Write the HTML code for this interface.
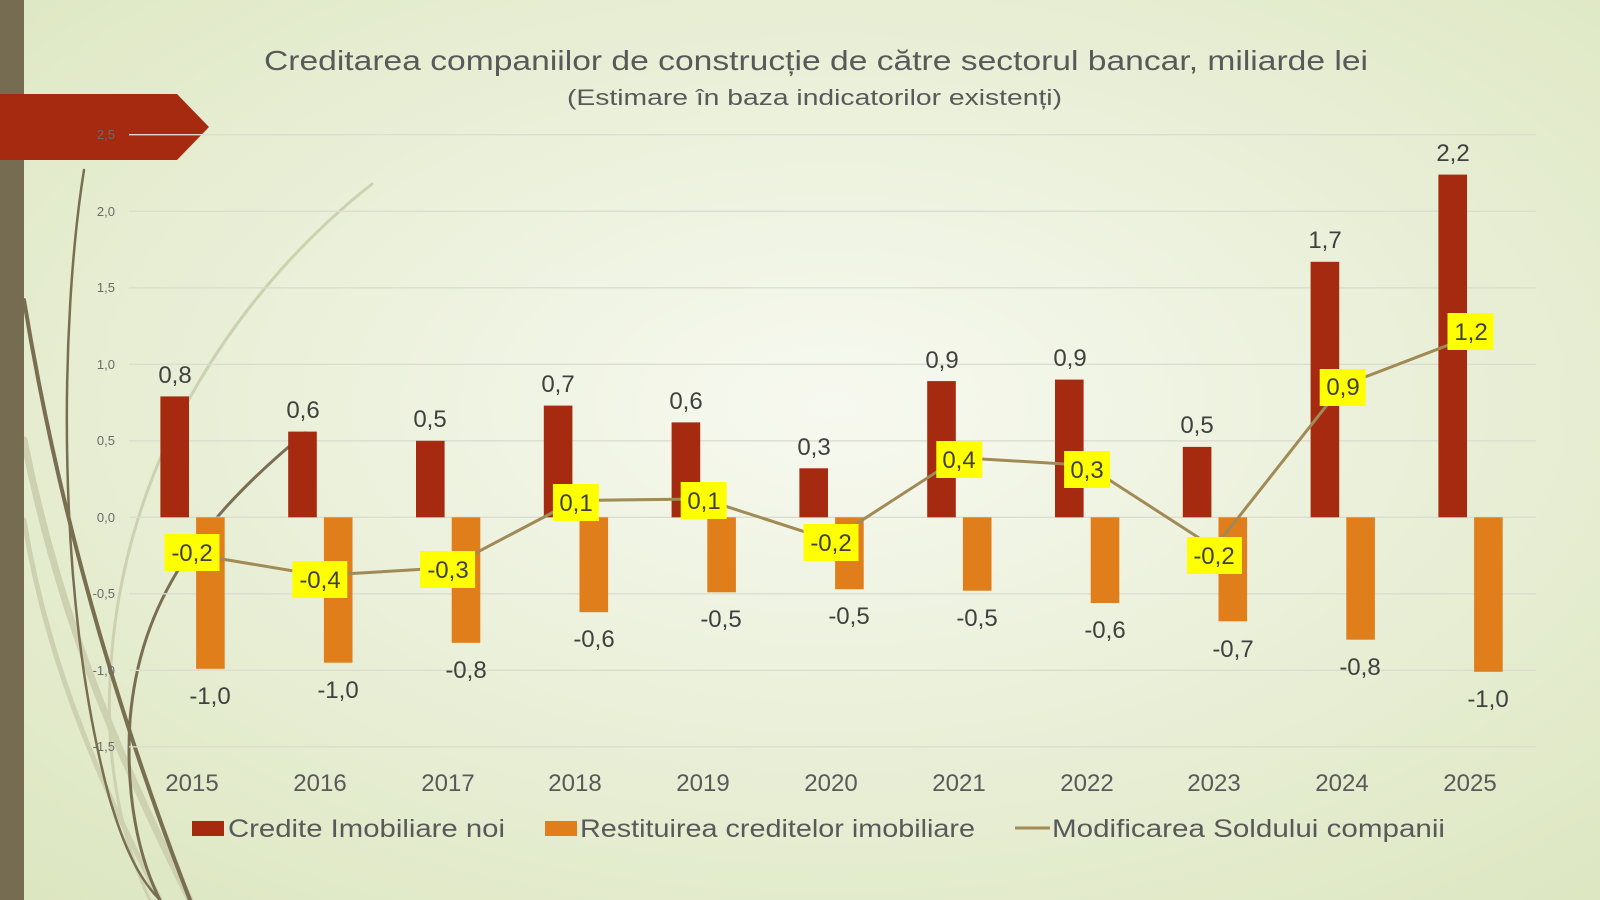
<!DOCTYPE html>
<html><head><meta charset="utf-8"><style>
body{margin:0;width:1600px;height:900px;overflow:hidden;font-family:"Liberation Sans",sans-serif}
svg{display:block}
</style></head><body>
<svg width="1600" height="900" viewBox="0 0 1600 900" xmlns="http://www.w3.org/2000/svg" font-family="Liberation Sans, sans-serif">
<defs>
<radialGradient id="bg" cx="52%" cy="45%" r="75%">
<stop offset="0" stop-color="#f7f9f0"/><stop offset="1" stop-color="#dce6c0"/>
</radialGradient>
</defs>
<rect width="1600" height="900" fill="url(#bg)"/>
<g fill="none" stroke-linecap="round">
<path d="M372 184 C250 280 120 450 110 680 C105 780 130 860 150 900" stroke="#cdd1b0" stroke-width="3"/>
<path d="M24 440 C60 620 120 760 190 900" stroke="#cdd1b0" stroke-width="7"/>
<path d="M24 520 C50 680 110 800 160 900" stroke="#cdd1b0" stroke-width="5"/>
<path d="M84 170 C60 320 55 600 110 800 C125 850 140 880 160 900" stroke="#7a6e50" stroke-width="2.5"/>
<path d="M24 300 C60 520 120 720 190 900" stroke="#7a6e50" stroke-width="4"/>
<path d="M305 433 C200 520 140 600 130 720 C125 800 140 860 160 900" stroke="#7a6e50" stroke-width="3"/>
</g>
<rect x="0" y="0" width="24" height="900" fill="#756c52"/>
<polygon points="0,94 177,94 209,127 177,160 0,160" fill="#a52a10"/>
<g stroke="#dcdcd0" stroke-width="1.3">
<line x1="129" x2="1536" y1="134.7" y2="134.7"/>
<line x1="129" x2="1536" y1="211.3" y2="211.3"/>
<line x1="129" x2="1536" y1="287.8" y2="287.8"/>
<line x1="129" x2="1536" y1="364.3" y2="364.3"/>
<line x1="129" x2="1536" y1="440.8" y2="440.8"/>
<line x1="129" x2="1536" y1="517.3" y2="517.3"/>
<line x1="129" x2="1536" y1="593.8" y2="593.8"/>
<line x1="129" x2="1536" y1="670.3" y2="670.3"/>
<line x1="129" x2="1536" y1="746.8" y2="746.8"/>
</g>
<g font-size="13" fill="#6a6a6a" text-anchor="end">
<text x="115" y="139">2,5</text><text x="115" y="216">2,0</text><text x="115" y="292">1,5</text>
<text x="115" y="369">1,0</text><text x="115" y="445">0,5</text><text x="115" y="522">0,0</text>
<text x="115" y="598">-0,5</text><text x="115" y="675">-1,0</text><text x="115" y="751">-1,5</text>
</g>
<text x="264" y="70" font-size="28" fill="#595959" textLength="1104" lengthAdjust="spacingAndGlyphs">Creditarea companiilor de construcție de către sectorul bancar, miliarde lei</text>
<text x="567" y="105" font-size="22" fill="#595959" textLength="495" lengthAdjust="spacingAndGlyphs">(Estimare în baza indicatorilor existenți)</text>
<g fill="#a52a10">
<rect x="160.4" y="396.4" width="28.6" height="120.9"/>
<rect x="288.2" y="431.6" width="28.6" height="85.7"/>
<rect x="416" y="440.8" width="28.6" height="76.5"/>
<rect x="543.8" y="405.6" width="28.6" height="111.7"/>
<rect x="671.6" y="422.4" width="28.6" height="94.9"/>
<rect x="799.4" y="468.3" width="28.6" height="49"/>
<rect x="927.2" y="381.1" width="28.6" height="136.2"/>
<rect x="1055" y="379.6" width="28.6" height="137.7"/>
<rect x="1182.8" y="446.9" width="28.6" height="70.4"/>
<rect x="1310.6" y="261.8" width="28.6" height="255.5"/>
<rect x="1438.4" y="174.6" width="28.6" height="342.7"/>
</g>
<g fill="#df7e1a">
<rect x="196.1" y="517.3" width="28.6" height="151.5"/>
<rect x="323.9" y="517.3" width="28.6" height="145.4"/>
<rect x="451.7" y="517.3" width="28.6" height="125.5"/>
<rect x="579.5" y="517.3" width="28.6" height="94.9"/>
<rect x="707.3" y="517.3" width="28.6" height="75"/>
<rect x="835.1" y="517.3" width="28.6" height="71.9"/>
<rect x="962.9" y="517.3" width="28.6" height="73.4"/>
<rect x="1090.7" y="517.3" width="28.6" height="85.7"/>
<rect x="1218.5" y="517.3" width="28.6" height="104"/>
<rect x="1346.3" y="517.3" width="28.6" height="122.4"/>
<rect x="1474.1" y="517.3" width="28.6" height="154.5"/>
</g>
<g font-size="24" fill="#404040" text-anchor="middle">
<text x="175" y="383">0,8</text><text x="303" y="418">0,6</text><text x="430" y="427">0,5</text>
<text x="558" y="392">0,7</text><text x="686" y="409">0,6</text><text x="814" y="455">0,3</text>
<text x="942" y="368">0,9</text><text x="1070" y="366">0,9</text><text x="1197" y="433">0,5</text>
<text x="1325" y="248">1,7</text><text x="1453" y="161">2,2</text>
<text x="210" y="704">-1,0</text><text x="338" y="698">-1,0</text><text x="466" y="678">-0,8</text>
<text x="594" y="647">-0,6</text><text x="721" y="627">-0,5</text><text x="849" y="624">-0,5</text>
<text x="977" y="626">-0,5</text><text x="1105" y="638">-0,6</text><text x="1233" y="657">-0,7</text>
<text x="1360" y="675">-0,8</text><text x="1488" y="707">-1,0</text>
</g>
<polyline fill="none" stroke="#a08a55" stroke-width="3" points="192,554 319.8,575.4 447.6,567.8 575.4,500.5 703.2,499 831,540.3 958.8,457.6 1086.6,465.3 1214.4,547.9 1342.2,385.7 1470,336.8"/>
<g fill="#ffff00">
<rect x="164.5" y="534" width="55" height="37"/><rect x="292.3" y="561" width="55" height="37"/>
<rect x="420.1" y="551" width="55" height="37"/><rect x="552.9" y="484" width="46" height="37"/>
<rect x="680.7" y="482" width="46" height="37"/><rect x="803.5" y="524" width="55" height="37"/>
<rect x="936.3" y="441" width="46" height="37"/><rect x="1064.1" y="451" width="46" height="37"/>
<rect x="1186.9" y="537" width="55" height="37"/><rect x="1319.7" y="369" width="46" height="37"/>
<rect x="1447.5" y="313" width="46" height="37"/>
</g>
<g font-size="24" fill="#404040" text-anchor="middle">
<text x="192" y="561">-0,2</text><text x="320" y="588">-0,4</text><text x="448" y="578">-0,3</text>
<text x="576" y="511">0,1</text><text x="704" y="509">0,1</text><text x="831" y="551">-0,2</text>
<text x="959" y="468">0,4</text><text x="1087" y="478">0,3</text><text x="1214" y="564">-0,2</text>
<text x="1343" y="395">0,9</text><text x="1471" y="340">1,2</text>
</g>
<g font-size="24" fill="#595959" text-anchor="middle">
<text x="192" y="791">2015</text><text x="320" y="791">2016</text><text x="448" y="791">2017</text>
<text x="575" y="791">2018</text><text x="703" y="791">2019</text><text x="831" y="791">2020</text>
<text x="959" y="791">2021</text><text x="1087" y="791">2022</text><text x="1214" y="791">2023</text>
<text x="1342" y="791">2024</text><text x="1470" y="791">2025</text>
</g>
<rect x="192" y="821" width="32" height="15" fill="#a52a10"/>
<text x="228" y="837" font-size="25" fill="#595959" textLength="277" lengthAdjust="spacingAndGlyphs">Credite Imobiliare noi</text>
<rect x="545" y="821" width="32" height="15" fill="#df7e1a"/>
<text x="580" y="837" font-size="25" fill="#595959" textLength="395" lengthAdjust="spacingAndGlyphs">Restituirea creditelor imobiliare</text>
<line x1="1015" x2="1050" y1="828" y2="828" stroke="#a08a55" stroke-width="3"/>
<text x="1052" y="837" font-size="25" fill="#595959" textLength="393" lengthAdjust="spacingAndGlyphs">Modificarea Soldului companii</text>
</svg>
</body></html>
